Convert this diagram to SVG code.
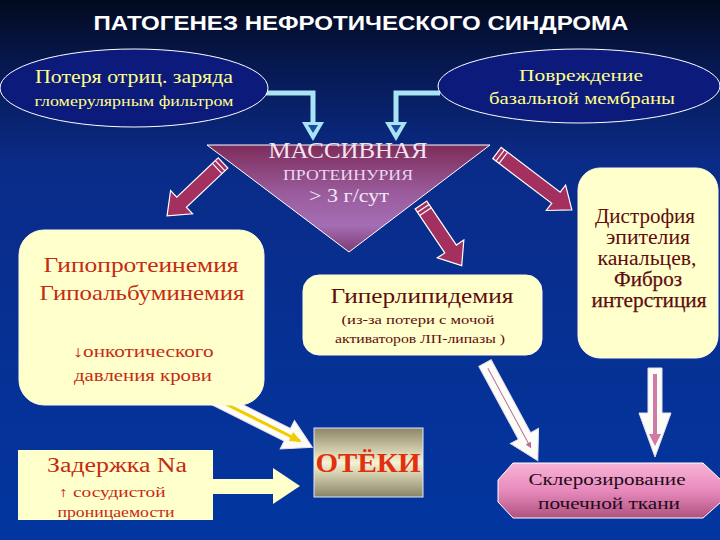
<svg xmlns="http://www.w3.org/2000/svg" width="720" height="540" viewBox="0 0 720 540">
<defs>
<linearGradient id="bg" x1="0" y1="0" x2="0" y2="1">
<stop offset="0" stop-color="#030a1e"/>
<stop offset="0.12" stop-color="#061850"/>
<stop offset="0.3" stop-color="#0a2b88"/>
<stop offset="1" stop-color="#0236a0"/>
</linearGradient>
<linearGradient id="tri" x1="0" y1="0" x2="0" y2="1">
<stop offset="0" stop-color="#7d2c5a"/>
<stop offset="0.45" stop-color="#9a5c9c"/>
<stop offset="0.75" stop-color="#a46db4"/>
<stop offset="1" stop-color="#7e3d72"/>
</linearGradient>
<linearGradient id="ote" x1="0" y1="0" x2="0" y2="1">
<stop offset="0" stop-color="#8c8566"/>
<stop offset="0.5" stop-color="#f6f3d2"/>
<stop offset="1" stop-color="#8a8466"/>
</linearGradient>
<linearGradient id="skl" x1="0" y1="0" x2="0" y2="1">
<stop offset="0" stop-color="#f8b4d6"/>
<stop offset="0.5" stop-color="#e88abc"/>
<stop offset="1" stop-color="#b0527f"/>
</linearGradient>
<marker id="ph" markerWidth="6" markerHeight="6" refX="5" refY="3" orient="auto" markerUnits="userSpaceOnUse" viewBox="0 0 6 6">
<path d="M0,0 L6,3 L0,6 z" fill="#c06a9a"/>
</marker>
<marker id="yh" markerWidth="12" markerHeight="10" refX="10" refY="5" orient="auto" markerUnits="userSpaceOnUse" viewBox="0 0 12 10">
<path d="M0,0 L12,5 L0,10 z" fill="#f0cc00"/>
</marker>
</defs>
<style>
.ell{fill:#0c1a7c;stroke:#ffffff;stroke-width:1;}
.ytxt{fill:#ffff88;}
.box{fill:#ffffcc;stroke:#fffbe0;stroke-width:1;}
.red{fill:#c52a14;}
.dark{fill:#5e0c0c;}
.cyan{fill:none;stroke:#a8e4f4;stroke-width:5;}
.marr{fill:#a3305e;stroke:#ffffff;stroke-width:1.2;}
.stripe{stroke:#ffffff;stroke-width:1.2;}
.warr{fill:#fdfdf8;stroke:#e8dcf0;stroke-width:1;}
</style>
<rect x="0" y="0" width="720" height="540" fill="url(#bg)"/>
<text x="361" y="30" font-family="Liberation Sans, Arial, sans-serif" font-weight="bold" font-size="21" fill="#ffffff" text-anchor="middle" textLength="535" lengthAdjust="spacingAndGlyphs">ПАТОГЕНЕЗ НЕФРОТИЧЕСКОГО СИНДРОМА</text>

<g id="connectors">
<path class="cyan" d="M266 93 H313 V124"/>
<polygon points="302,122 324,122 313,141" fill="#a8e4f4"/>
<polygon points="308,125 318,125 313,133" fill="#1e4aa0"/>
<path class="cyan" d="M440 93 H396 V124"/>
<polygon points="385,122 407,122 396,141" fill="#a8e4f4"/>
<polygon points="391,125 401,125 396,133" fill="#1e4aa0"/>

<g transform="translate(223,163) rotate(136.6)">
<polygon class="marr" points="0,-7 57,-7 57,-16 77,0 57,16 57,7 0,7"/>
<line class="stripe" x1="4" y1="-7" x2="4" y2="7"/><line class="stripe" x1="8" y1="-7" x2="8" y2="7"/>
</g>
<g transform="translate(421,205) rotate(56.1)">
<polygon class="marr" points="0,-7 53,-7 53,-16 73,0 53,16 53,7 0,7"/>
<line class="stripe" x1="4" y1="-7" x2="4" y2="7"/><line class="stripe" x1="8" y1="-7" x2="8" y2="7"/>
</g>
<g transform="translate(497,153) rotate(37.2)">
<polygon class="marr" points="0,-7 74,-7 74,-16 94,0 74,16 74,7 0,7"/>
<line class="stripe" x1="4" y1="-7" x2="4" y2="7"/><line class="stripe" x1="8" y1="-7" x2="8" y2="7"/>
</g>

<g transform="translate(214,398) rotate(26.6)">
<polygon class="warr" points="0,-7 82,-7 82,-16 110,0 82,16 82,7 0,7"/>
<line x1="8" y1="0" x2="96" y2="0" stroke="#f0cc00" stroke-width="3" marker-end="url(#yh)"/>
</g>
<polygon points="212,479 273,479 273,468 300,486 273,504 273,494 212,494" fill="#ffffcc"/>

<g transform="translate(485,363) rotate(61.6)">
<polygon class="warr" points="0,-7 83,-7 83,-16 111,0 83,16 83,7 0,7"/>
<line x1="6" y1="0" x2="96" y2="0" stroke="#b86a9a" stroke-width="1" marker-end="url(#ph)"/>
</g>
<g transform="translate(655,368) rotate(90)">
<polygon class="warr" points="0,-7 45,-7 45,-16 89,0 45,16 45,7 0,7"/>
<line x1="6" y1="0" x2="72" y2="0" stroke="#d07aa6" stroke-width="4"/>
<polygon points="66,-6 78,0 66,6" fill="#d07aa6"/>
</g>
</g>

<g font-family="Liberation Serif, Times New Roman, DejaVu Serif, serif">
<g id="node-charge">
<ellipse class="ell" cx="134" cy="88" rx="134" ry="39"/>
<text class="ytxt" x="134" y="83" font-size="18" text-anchor="middle" textLength="198" lengthAdjust="spacingAndGlyphs">Потеря отриц. заряда</text>
<text class="ytxt" x="134" y="106" font-size="15" text-anchor="middle" textLength="199" lengthAdjust="spacingAndGlyphs">гломерулярным фильтром</text>
</g>
<g id="node-membrane">
<ellipse class="ell" cx="579" cy="86" rx="141" ry="37"/>
<text class="ytxt" x="581" y="81" font-size="17" text-anchor="middle" textLength="124" lengthAdjust="spacingAndGlyphs">Повреждение</text>
<text class="ytxt" x="582" y="104" font-size="17" text-anchor="middle" textLength="186" lengthAdjust="spacingAndGlyphs">базальной мембраны</text>
</g>
<g id="node-proteinuria">
<polygon points="207,145 490,145 349,252" fill="url(#tri)" stroke="#ffffff" stroke-width="1"/>
<text x="348" y="158" font-size="23" fill="#f4e4f2" text-anchor="middle" textLength="159" lengthAdjust="spacingAndGlyphs">МАССИВНАЯ</text>
<text x="348" y="180" font-size="14" fill="#ead8f0" text-anchor="middle" textLength="130" lengthAdjust="spacingAndGlyphs">ПРОТЕИНУРИЯ</text>
<text x="349" y="202" font-size="19" fill="#f4e8f6" text-anchor="middle" textLength="80" lengthAdjust="spacingAndGlyphs">&gt; 3 г/сут</text>
</g>
<g id="node-hypo">
<rect class="box" x="19" y="230" width="245" height="175" rx="25"/>
<text class="red" x="141" y="272" font-size="21" text-anchor="middle" textLength="195" lengthAdjust="spacingAndGlyphs">Гипопротеинемия</text>
<text class="red" x="142" y="300" font-size="21" text-anchor="middle" textLength="205" lengthAdjust="spacingAndGlyphs">Гипоальбуминемия</text>
<text class="red" x="143" y="357" font-size="16" text-anchor="middle" textLength="141" lengthAdjust="spacingAndGlyphs">↓онкотического</text>
<text class="red" x="143" y="381" font-size="16" text-anchor="middle" textLength="138" lengthAdjust="spacingAndGlyphs">давления крови</text>
</g>
<g id="node-na">
<rect x="18" y="450" width="195" height="70" fill="#ffffcc"/>
<text class="red" x="117" y="472" font-size="20" text-anchor="middle" textLength="140" lengthAdjust="spacingAndGlyphs">Задержка Na</text>
<text class="red" x="112" y="497" font-size="14" text-anchor="middle" textLength="107" lengthAdjust="spacingAndGlyphs">↑ сосудистой</text>
<text class="red" x="116" y="517" font-size="14" text-anchor="middle" textLength="117" lengthAdjust="spacingAndGlyphs">проницаемости</text>
</g>
<g id="node-hyperlip">
<rect class="box" x="303" y="275" width="239" height="80" rx="16"/>
<text class="dark" x="422" y="303" font-size="21" text-anchor="middle" textLength="183" lengthAdjust="spacingAndGlyphs">Гиперлипидемия</text>
<text class="dark" x="418" y="324" font-size="13" text-anchor="middle" textLength="153" lengthAdjust="spacingAndGlyphs">(из-за потери с мочой</text>
<text class="dark" x="420" y="343" font-size="13" text-anchor="middle" textLength="170" lengthAdjust="spacingAndGlyphs">активаторов ЛП-липазы )</text>
</g>
<g id="node-dystrophy">
<rect class="box" x="578" y="168" width="140" height="190" rx="22"/>
<text class="dark" x="645" y="223" font-size="20" text-anchor="middle" textLength="100" lengthAdjust="spacingAndGlyphs">Дистрофия</text>
<text class="dark" x="648" y="244" font-size="20" text-anchor="middle" textLength="84" lengthAdjust="spacingAndGlyphs">эпителия</text>
<text class="dark" x="647" y="265" font-size="20" text-anchor="middle" textLength="99" lengthAdjust="spacingAndGlyphs">канальцев,</text>
<text class="dark" x="648" y="286" font-size="20" stroke="#5e0c0c" stroke-width="0.25" text-anchor="middle" textLength="68" lengthAdjust="spacingAndGlyphs">Фиброз</text>
<text class="dark" x="649" y="307" font-size="20" stroke="#5e0c0c" stroke-width="0.25" text-anchor="middle" textLength="115" lengthAdjust="spacingAndGlyphs">интерстиция</text>
</g>
<g id="node-edema">
<rect x="314" y="428" width="109" height="69" fill="url(#ote)" stroke="#dfe6ff" stroke-width="1"/>
<text x="368" y="472" font-size="28" font-weight="bold" fill="#e0300e" text-anchor="middle" textLength="105" lengthAdjust="spacingAndGlyphs">ОТЁКИ</text>
</g>
<g id="node-sclerosis">
<polygon points="513,463 703,463 721,480 721,502 703,518 513,518 498,502 498,480" fill="url(#skl)" stroke="#ffffff" stroke-width="1"/>
<text x="607" y="485" font-size="17" fill="#1e0a1a" text-anchor="middle" textLength="157" lengthAdjust="spacingAndGlyphs">Склерозирование</text>
<text x="609" y="509" font-size="17" fill="#1e0a1a" text-anchor="middle" textLength="142" lengthAdjust="spacingAndGlyphs">почечной ткани</text>
</g>
</g>
</svg>
